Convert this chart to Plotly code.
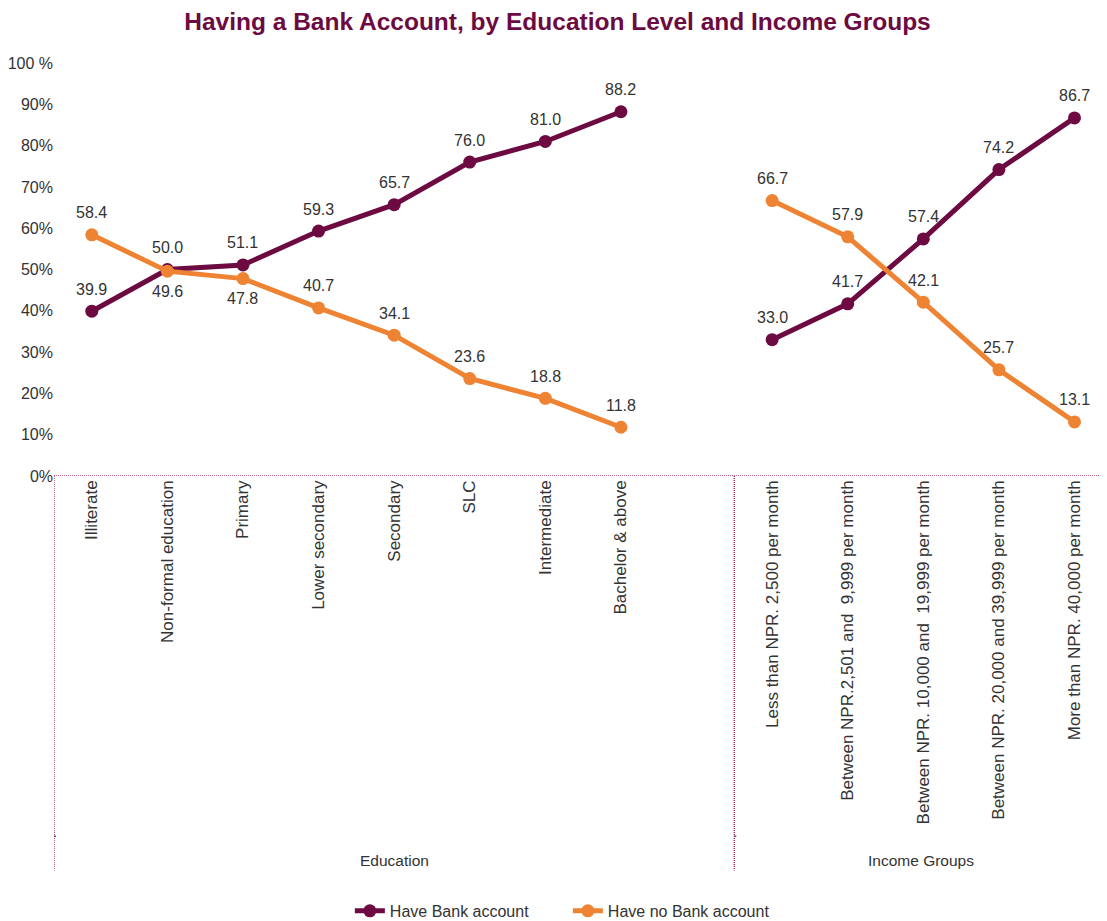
import plotly.graph_objects as go

edu_categories = ["Illiterate", "Non-formal education", "Primary", "Lower secondary",
                  "Secondary", "SLC", "Intermediate", "Bachelor & above"]
income_categories = ["Less than NPR. 2,500 per month",
                     "Between NPR.2,501 and  9,999 per month",
                     "Between NPR. 10,000 and  19,999 per month",
                     "Between NPR. 20,000 and 39,999 per month",
                     "More than NPR. 40,000 per month"]

edu_have = [39.9, 50.0, 51.1, 59.3, 65.7, 76.0, 81.0, 88.2]
edu_have_not = [58.4, 49.6, 47.8, 40.7, 34.1, 23.6, 18.8, 11.8]
inc_have = [33.0, 41.7, 57.4, 74.2, 86.7]
inc_have_not = [66.7, 57.9, 42.1, 25.7, 13.1]

y_tick_values = [0, 10, 20, 30, 40, 50, 60, 70, 80, 90, 100]
y_tick_labels = ["0%", "10%", "20%", "30%", "40%", "50%", "60%", "70%", "80%", "90%", "100 %"]

# label placement: +1 above, -1 below
edu_have_pos = [1, 1, 1, 1, 1, 1, 1, 1]
edu_have_not_pos = [1, -1, -1, 1, 1, 1, 1, 1]
inc_have_pos = [1, 1, 1, 1, 1]
inc_have_not_pos = [1, 1, 1, 1, 1]

MAROON = "#6C0A41"
ORANGE = "#EE8433"
SEP = "#9C2A62"
TXT = "#333333"
FONT = "Liberation Sans, Arial, sans-serif"

n_edu = len(edu_categories)
x_edu = list(range(n_edu))
x_inc = [n_edu + 1 + i for i in range(len(income_categories))]
x_all = x_edu + [n_edu] + x_inc
tick_text = edu_categories + [""] + income_categories

have_all = edu_have + [None] + inc_have
have_not_all = edu_have_not + [None] + inc_have_not

fig = go.Figure()
fig.add_trace(go.Scatter(x=x_all, y=have_all, mode="lines+markers", name="Have Bank account",
                         line=dict(color=MAROON, width=5), marker=dict(color=MAROON, size=13),
                         connectgaps=False))
fig.add_trace(go.Scatter(x=x_all, y=have_not_all, mode="lines+markers", name="Have no Bank account",
                         line=dict(color=ORANGE, width=5), marker=dict(color=ORANGE, size=13),
                         connectgaps=False))

annotations = []
def add_labels(xs, ys, pos):
    for x, y, p in zip(xs, ys, pos):
        annotations.append(dict(x=x, y=y, xref="x", yref="y", text=f"{y:.1f}", showarrow=False,
                                yshift=22 if p > 0 else -20,
                                font=dict(size=16, color=TXT, family=FONT)))

add_labels(x_edu, edu_have, edu_have_pos)
add_labels(x_edu, edu_have_not, edu_have_not_pos)
add_labels(x_inc, inc_have, inc_have_pos)
add_labels(x_inc, inc_have_not, inc_have_not_pos)

x_left = -0.5
x_sep = n_edu + 0.5
x_right = x_inc[-1] + 0.43

annotations.append(dict(x=(x_left + x_sep) / 2, y=-0.93, xref="x", yref="paper", yanchor="middle",
                        text="Education", showarrow=False,
                        font=dict(size=15.5, color=TXT, family=FONT)))
annotations.append(dict(x=(x_sep + x_right) / 2, y=-0.93, xref="x", yref="paper", yanchor="middle",
                        text="Income Groups", showarrow=False,
                        font=dict(size=15.5, color=TXT, family=FONT)))

dot = dict(color=SEP, width=1.5, dash="1px,1px")
shapes = [
    dict(type="line", xref="x", yref="y", x0=x_left, x1=x_right, y0=0, y1=0, line=dot),
    dict(type="line", xref="x", yref="paper", x0=x_left, x1=x_left, y0=0, y1=-0.955, line=dot),
    dict(type="line", xref="x", yref="paper", x0=x_sep, x1=x_sep, y0=0, y1=-0.955, line=dot),
]
for xa in (x_left, x_sep):
    shapes.append(dict(type="line", xref="x", yref="paper", xsizemode="pixel", xanchor=xa,
                       x0=0, x1=2, y0=-0.872, y1=-0.872, line=dict(color=SEP, width=1.5)))

fig.update_layout(
    width=1099, height=913,
    margin=dict(l=46, r=0, t=55, b=445),
    paper_bgcolor="white", plot_bgcolor="white",
    title=dict(text="<b>Having a Bank Account, by Education Level and Income Groups</b>",
               x=0.5, xanchor="center", y=0.985, yanchor="middle",
               font=dict(size=24.5, color=MAROON, family=FONT)),
    font=dict(family=FONT, color=TXT, size=14),
    xaxis=dict(range=[x_left, x_right], tickmode="array", tickvals=x_all, ticktext=tick_text,
               tickangle=-90, automargin=False,
               showgrid=False, zeroline=False, showline=False, ticks="",
               tickfont=dict(size=17, color=TXT, family=FONT)),
    yaxis=dict(range=[0, 100], tickmode="array", tickvals=y_tick_values, ticktext=y_tick_labels,
               automargin=False,
               showgrid=False, zeroline=False, showline=False, ticks="",
               tickfont=dict(size=16, color=TXT, family=FONT)),
    legend=dict(orientation="h", x=0.488, xanchor="center",
                yref="container", y=0.011, yanchor="middle",
                entrywidth=173, entrywidthmode="pixels",
                font=dict(size=16, color=TXT, family=FONT)),
    annotations=annotations,
    shapes=shapes,
)

fig.write_html("out.html")
